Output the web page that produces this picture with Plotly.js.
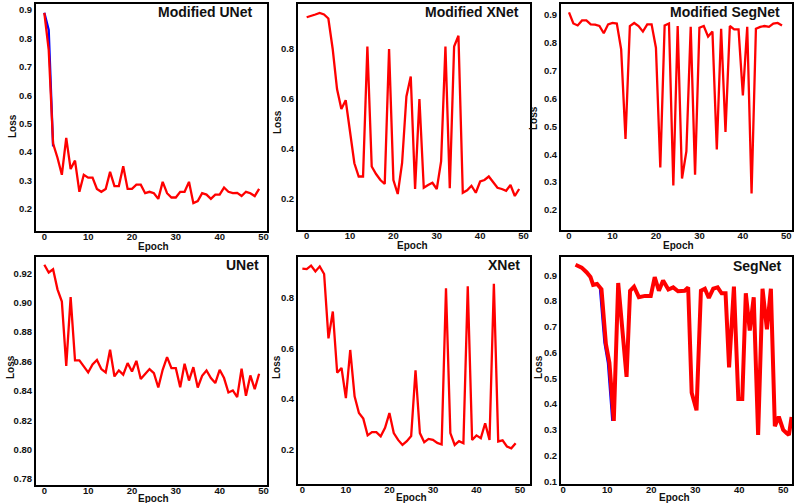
<!DOCTYPE html>
<html>
<head>
<meta charset="utf-8">
<script src="https://cdn.plot.ly/plotly-3.0.1.min.js"></script>
<style>html,body{margin:0;padding:0;background:#fff;}#chart{width:800px;height:503px;}</style>
</head>
<body>
<div id="chart"></div>
<script>
// ---------- data ----------
const epochs = [0,1,2,3,4,5,6,7,8,9,10,11,12,13,14,15,16,17,18,19,20,21,22,23,24,25,26,27,28,29,30,31,32,33,34,35,36,37,38,39,40,41,42,43,44,45,46,47,48,49];

const modUNetLoss = [0.89,0.76,0.43,0.38,0.32,0.45,0.34,0.37,0.26,0.32,
  0.31,0.31,0.27,0.26,0.27,0.33,0.28,0.28,0.35,0.27,
  0.27,0.285,0.285,0.255,0.26,0.255,0.235,0.295,0.255,0.24,
  0.24,0.26,0.26,0.295,0.22,0.227,0.255,0.25,0.235,0.25,
  0.25,0.275,0.26,0.255,0.256,0.245,0.26,0.255,0.245,0.27];
const modUNetBlueEpochs = [0,1,2];
const modUNetBlueLoss = [0.89,0.83,0.42];

const modXNetLoss = [0.927,0.931,0.938,0.944,0.938,0.922,0.80,0.64,0.56,0.595,
  0.465,0.343,0.29,0.29,0.81,0.33,0.30,0.276,0.26,0.80,
  0.276,0.22,0.343,0.61,0.69,0.24,0.60,0.245,0.256,0.265,
  0.24,0.35,0.81,0.243,0.81,0.853,0.225,0.235,0.253,0.225,
  0.27,0.276,0.29,0.265,0.245,0.24,0.233,0.256,0.212,0.24];

const modSegNetLoss = [0.909,0.869,0.862,0.88,0.88,0.866,0.865,0.86,0.834,0.866,
  0.871,0.869,0.776,0.455,0.86,0.871,0.86,0.84,0.866,0.866,
  0.782,0.352,0.862,0.869,0.288,0.86,0.313,0.41,0.857,0.326,
  0.854,0.86,0.822,0.84,0.417,0.85,0.48,0.86,0.848,0.848,
  0.611,0.857,0.259,0.85,0.857,0.86,0.857,0.869,0.871,0.862];

const uNetLoss = [0.9257,0.9205,0.9227,0.909,0.9007,0.857,0.9037,0.8607,0.8607,0.857,
  0.8525,0.858,0.861,0.8548,0.8525,0.868,0.8498,0.8539,0.851,0.8589,
  0.8532,0.8604,0.848,0.8514,0.8548,0.852,0.8423,0.8543,0.8629,0.8554,
  0.8554,0.8425,0.8584,0.847,0.8561,0.8423,0.8502,0.8539,0.8487,0.8453,
  0.8543,0.8487,0.8389,0.8403,0.8357,0.855,0.8366,0.8505,0.8412,0.8516];

const xNetLoss = [0.914,0.912,0.926,0.903,0.923,0.893,0.639,0.745,0.503,0.522,
  0.403,0.593,0.41,0.344,0.322,0.256,0.269,0.269,0.252,0.286,
  0.344,0.265,0.238,0.218,0.233,0.253,0.513,0.265,0.229,0.242,
  0.238,0.226,0.22,0.837,0.265,0.218,0.233,0.225,0.844,0.238,
  0.256,0.245,0.304,0.238,0.854,0.232,0.236,0.212,0.205,0.225];

const segNetEpochs = [2.8,4.2,5.3,6.2,6.8,7.7,8.7,9.7,10.5,11.5,12.5,14.4,15.2,16.1,17.2,18.6,19.9,20.8,21.75,22.7,
  23.9,25,26.1,26.9,27.6,28.4,29.2,30.3,31.3,32.2,33.1,34.1,35.1,36,36.9,37.7,38.8,39.8,40.7,41.5,
  42.4,43.3,44.3,45.3,46.3,47.2,48.1,49,50,50.8,51.3,51.9];
const segNetLoss = [0.941,0.93,0.912,0.893,0.863,0.866,0.846,0.634,0.561,0.335,0.87,0.506,0.84,0.856,0.815,0.82,0.82,0.893,0.84,0.88,
  0.845,0.853,0.838,0.838,0.84,0.853,0.444,0.376,0.84,0.848,0.812,0.848,0.853,0.83,0.83,0.543,0.856,0.42,0.42,0.83,
  0.686,0.815,0.28,0.848,0.69,0.848,0.314,0.351,0.30,0.287,0.28,0.35];
const segNetBlueEpochs = [8.5,9.5,10.3,11.3];
const segNetBlueLoss = [0.846,0.64,0.56,0.335];

const panelTitles = ["Modified UNet","Modified XNet","Modified SegNet","UNet","XNet","SegNet"];
const xTitle = "Epoch";
const yTitle = "Loss";

// ---------- layout helpers ----------
const W = 800, H = 503;
const px = v => v / W;
const py = v => 1 - v / H;
const FONT = "Arial, 'Liberation Sans', sans-serif";
const INK = "#111";

// frames in pixels: [left, right, top, bottom]
const frames = [
  [36, 267, 4, 231],
  [298, 530, 4, 230],
  [561, 792, 4, 230],
  [36, 267, 257, 485],
  [298, 530, 257, 484],
  [561, 792, 257, 484]
];
const xRanges = [[-1.9, 50.8], [-2.0, 51.5], [-1.84, 51.3], [-1.9, 50.8], [-1.0, 52.3], [-0.5, 52.0]];
const yRanges = [[0.122, 0.921], [0.076, 0.98], [0.128, 0.939], [0.776, 0.931], [0.064, 0.96], [0.09, 0.971]];
const yDticks = [0.1, 0.2, 0.1, 0.02, 0.2, 0.1];
const yFormats = [".1f", ".1f", ".1f", ".2f", ".1f", ".1f"];

const layout = {
  width: W, height: H,
  margin: {l: 0, r: 0, t: 0, b: 0},
  paper_bgcolor: "#fff",
  plot_bgcolor: "#fff",
  showlegend: false,
  font: {family: FONT, color: INK},
  annotations: []
};

frames.forEach((f, i) => {
  const n = i === 0 ? "" : String(i + 1);
  layout["xaxis" + n] = {
    domain: [px(f[0]), px(f[1])],
    anchor: "y" + n,
    range: xRanges[i],
    tick0: 0, dtick: 10,
    showgrid: false, zeroline: false,
    showline: true, mirror: true, linecolor: "#000", linewidth: 2,
    ticks: "", ticklabelstandoff: -4,
    tickfont: {family: FONT, size: 9.5, color: INK, weight: "bold"}
  };
  layout["yaxis" + n] = {
    domain: [py(f[3]), py(f[2])],
    anchor: "x" + n,
    range: yRanges[i],
    tick0: 0, dtick: yDticks[i], tickformat: yFormats[i],
    showgrid: false, zeroline: false,
    showline: true, mirror: true, linecolor: "#000", linewidth: 2,
    ticks: "",
    tickfont: {family: FONT, size: 9.5, color: INK, weight: "bold"}
  };
});

// panel titles
const titlePos = [[254, 12], [521, 12], [782, 12], [261, 265], [522, 265], [784, 266]];
titlePos.forEach((p, i) => {
  layout.annotations.push({
    text: panelTitles[i], xref: "paper", yref: "paper",
    x: px(p[0]), y: py(p[1]), xanchor: "right", yanchor: "middle",
    showarrow: false, font: {family: FONT, size: 14, color: INK, weight: "bold"}
  });
});
// axis titles
const epochPos = [[153, 246.5], [412, 245.5], [678, 245.5], [153, 498], [411, 497.5], [674, 497.5]];
const lossPos = [[13, 126], [277, 122], [533, 118], [10, 367], [276, 367], [538, 367]];
epochPos.forEach(p => layout.annotations.push({
  text: xTitle, xref: "paper", yref: "paper", x: px(p[0]), y: py(p[1]),
  xanchor: "center", yanchor: "middle", showarrow: false,
  font: {family: FONT, size: 10, color: INK, weight: "bold"}
}));
lossPos.forEach(p => layout.annotations.push({
  text: yTitle, xref: "paper", yref: "paper", x: px(p[0]), y: py(p[1]),
  xanchor: "center", yanchor: "middle", showarrow: false, textangle: -90,
  font: {family: FONT, size: 10, color: INK, weight: "bold"}
}));

const red = "#ff0000", blue = "#0000ff";
function line(x, y, ax, color, width) {
  return {x: x, y: y, type: "scatter", mode: "lines", xaxis: "x" + ax, yaxis: "y" + ax,
    line: {color: color, width: width}, hoverinfo: "skip"};
}

const traces = [
  line(modUNetBlueEpochs, modUNetBlueLoss, "", blue, 2.3),
  line(epochs, modUNetLoss, "", red, 2.3),
  line(epochs, modXNetLoss, "2", red, 2.3),
  line(epochs, modSegNetLoss, "3", red, 2.3),
  line(epochs, uNetLoss, "4", red, 2.3),
  line(epochs, xNetLoss, "5", red, 2.3),
  line(segNetBlueEpochs, segNetBlueLoss, "6", blue, 3.5),
  line(segNetEpochs, segNetLoss, "6", red, 4)
];

Plotly.newPlot("chart", traces, layout, {staticPlot: true, displayModeBar: false});
</script>
</body>
</html>
